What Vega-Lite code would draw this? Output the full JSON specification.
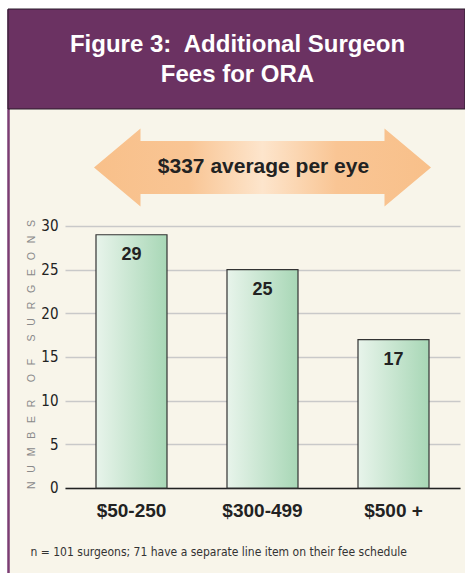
{
  "$schema": "https://vega.github.io/schema/vega-lite/v6.json",
  "autosize": "none",
  "width": 457,
  "height": 564,
  "padding": {"left": 8, "top": 9, "right": 0, "bottom": 0},
  "background": "#ffffff",
  "config": {
    "view": {"fill": "#f8f5ea", "stroke": null},
    "font": "Liberation Sans"
  },
  "data": {
    "values": [
      {"fee": "$50-250", "surgeons": 29},
      {"fee": "$300-499", "surgeons": 25},
      {"fee": "$500 +", "surgeons": 17}
    ]
  },
  "layer": [
    {
      "mark": {
        "type": "bar",
        "stroke": "#333333",
        "strokeWidth": 1.2,
        "fill": {
          "gradient": "linear",
          "x1": 0, "x2": 1, "y1": 0, "y2": 0,
          "stops": [
            {"offset": 0, "color": "#e8f4eb"},
            {"offset": 1, "color": "#a8d7b6"}
          ]
        }
      },
      "encoding": {
        "x": {
          "field": "fee",
          "type": "nominal",
          "sort": null,
          "scale": {
            "domain": ["$50-250", "$300-499", "$500 +"],
            "range": [57, 452],
            "paddingInner": 0.458,
            "paddingOuter": 0.2366
          },
          "axis": {
            "orient": "bottom",
            "offset": -85,
            "labelAngle": 0,
            "ticks": false,
            "domain": true,
            "domainColor": "#222222",
            "domainWidth": 1.5,
            "grid": false,
            "labelFont": "Liberation Sans",
            "labelFontWeight": "bold",
            "labelFontSize": 19,
            "labelColor": "#222222",
            "labelPadding": 13,
            "title": "n = 101 surgeons; 71 have a separate line item on their fee schedule",
            "titleFont": "DejaVu Sans Condensed, Roboto Condensed, Roboto",
            "titleFontWeight": "normal",
            "titleFontSize": 12,
            "titleColor": "#333333",
            "titleX": 22,
            "titleY": 67,
            "titleAlign": "left",
            "titleBaseline": "alphabetic"
          }
        },
        "y": {
          "field": "surgeons",
          "type": "quantitative",
          "scale": {"domain": [-9.733, 54.847], "nice": false, "zero": false},
          "axis": {
            "values": [0, 5, 10, 15, 20, 25, 30],
            "domain": true,
            "domainColor": "#7b3d73",
            "domainWidth": 2.5,
            "ticks": false,
            "tickSize": 0,
            "labelPadding": -50,
            "labelAlign": "right",
            "labelBaseline": "middle",
            "labelFont": "DejaVu Sans Condensed, Roboto Condensed, Roboto",
            "labelFontSize": 15,
            "labelColor": "#222222",
            "grid": true,
            "gridColor": "#c9c9c9",
            "gridWidth": 1.5,
            "title": "N\u00a0\u00a0\u00a0U\u00a0\u00a0\u00a0M\u00a0\u00a0\u00a0B\u00a0\u00a0\u00a0E\u00a0\u00a0\u00a0R\u00a0\u00a0\u00a0\u00a0\u00a0\u00a0O\u00a0\u00a0\u00a0F\u00a0\u00a0\u00a0\u00a0\u00a0\u00a0S\u00a0\u00a0\u00a0U\u00a0\u00a0\u00a0R\u00a0\u00a0\u00a0G\u00a0\u00a0\u00a0E\u00a0\u00a0\u00a0O\u00a0\u00a0\u00a0N\u00a0\u00a0\u00a0S",
            "titleFont": "Liberation Sans",
            "titleFontWeight": "normal",
            "titleFontSize": 10.5,
            "titleColor": "#8a8a8a",
            "titleAngle": 270,
            "titleX": 23,
            "titleY": 345,
            "titleAlign": "center",
            "titleBaseline": "middle"
          }
        }
      }
    },
    {
      "mark": {"type": "text", "baseline": "middle", "dy": 20, "font": "Liberation Sans", "fontWeight": "bold", "fontSize": 18, "color": "#222222"},
      "encoding": {
        "x": {"field": "fee", "type": "nominal", "sort": null},
        "y": {"field": "surgeons", "type": "quantitative"},
        "text": {"field": "surgeons", "type": "quantitative"}
      }
    },
    {
      "data": {"values": [{"title": ["Figure 3:\u00a0 Additional Surgeon", "Fees for ORA"]}]},
      "layer": [
        {
          "mark": {"type": "rect", "fill": "#6b3262", "stroke": "#2b1b2a", "strokeWidth": 1},
          "encoding": {
            "y": {"datum": 43.397, "type": "quantitative"},
            "y2": {"datum": 54.847}
          }
        },
        {
          "mark": {"type": "text", "baseline": "middle", "align": "center", "font": "Liberation Sans", "fontWeight": "bold", "fontSize": 24, "lineHeight": 30, "color": "#ffffff", "dx": 1},
          "encoding": {
            "y": {"datum": 50.67, "type": "quantitative"},
            "text": {"field": "title"}
          }
        }
      ]
    },
    {
      "data": {"values": [{"label": "$337 average per eye"}]},
      "layer": [
        {
          "mark": {
            "type": "point",
            "filled": true,
            "opacity": 1,
            "size": 113569,
            "shape": "M-1,0 L-0.724,-0.2315 L-0.724,-0.157 L0.724,-0.157 L0.724,-0.2315 L1,0 L0.724,0.2315 L0.724,0.157 L-0.724,0.157 L-0.724,0.2315 Z",
            "fill": {
              "gradient": "linear",
              "x1": 0, "x2": 1, "y1": 0, "y2": 0,
              "stops": [
                {"offset": 0, "color": "#f8c08a"},
                {"offset": 0.28, "color": "#f9c594"},
                {"offset": 0.5, "color": "#fde5cc"},
                {"offset": 0.72, "color": "#f9c594"},
                {"offset": 1, "color": "#f8c08a"}
              ]
            }
          },
          "encoding": {
            "x": {"datum": "$300-499"},
            "y": {"datum": 36.7, "type": "quantitative"}
          }
        },
        {
          "mark": {"type": "text", "baseline": "middle", "align": "center", "font": "Liberation Sans", "fontWeight": "bold", "fontSize": 21, "color": "#222222", "dx": 1},
          "encoding": {
            "x": {"datum": "$300-499"},
            "y": {"datum": 36.7, "type": "quantitative"},
            "text": {"field": "label"}
          }
        }
      ]
    }
  ]
}
